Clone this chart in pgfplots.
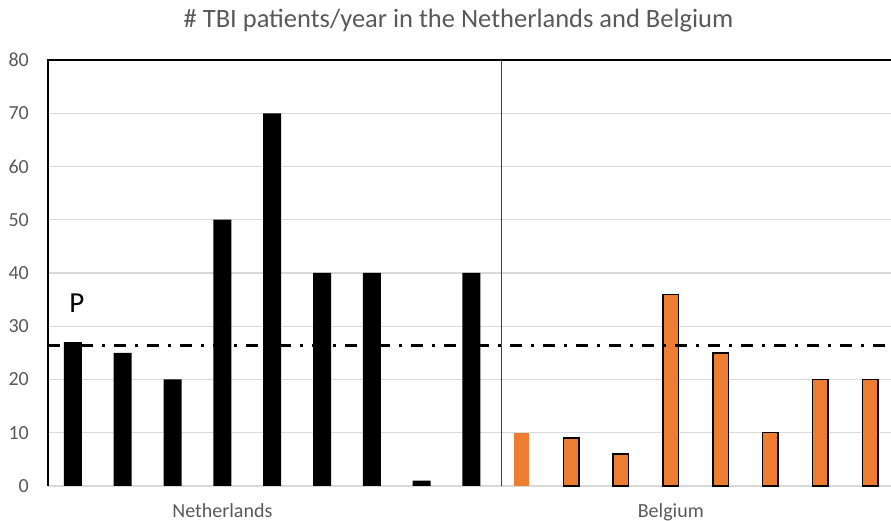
\documentclass[border=0pt]{standalone}
\usepackage{fontspec}
\setmainfont{Carlito}
\usepackage{pgfplots}
\pgfplotsset{compat=1.18}
\definecolor{txt}{HTML}{595959}
\definecolor{grd}{HTML}{D9D9D9}
\definecolor{org}{HTML}{ED7D31}
\begin{document}
\begin{tikzpicture}[x=1pt,y=1pt]
\path[use as bounding box] (0,0) rectangle (891,521);
\begin{axis}[
  at={(48pt,35pt)}, anchor=south west,
  scale only axis, width=843pt, height=426pt,
  xmin=0.5, xmax=17.42, ymin=0, ymax=80,
  ytick={0,10,...,80}, xtick=\empty,
  ymajorgrids, grid style={grd, line width=1.3pt},
  axis line style={draw=none},
  major tick length=0pt,
  clip=false,
  /pgf/number format/assume math mode=true,
  yticklabel style={font=\fontsize{20}{20}\selectfont, text=txt, inner sep=0pt, anchor=east, xshift=-19pt},
]
\addplot[ybar, bar width=18pt, bar shift=0pt, fill=black, draw=none]
  coordinates {(1,27)(2,25)(3,20)(4,50)(5,70)(6,40)(7,40)(8,1)(9,40)};
\addplot[ybar, bar width=15pt, bar shift=0pt, fill=org, draw=none]
  coordinates {(10,10)};
\addplot[ybar, bar width=15.5pt, bar shift=0pt, fill=org, draw=black, line width=1.5pt]
  coordinates {(11,9)(12,6)(13,36)(14,25)(15,10)(16,20)(17,20)};
\addplot[black, line width=3pt, dash pattern=on 12pt off 9pt on 3pt off 9pt]
  coordinates {(0.5,26.3)(17.42,26.3)};
\draw[line width=2pt, black] (axis cs:0.5,0) -- (axis cs:0.5,80) -- (axis cs:17.42,80);
\draw[line width=1.3pt, black!75] (axis cs:9.6,0) -- (axis cs:9.6,80);
\node[font=\fontsize{29}{29}\selectfont, black] at (axis cs:1.08,34.4) {P};
\node[font=\fontsize{20}{20}\selectfont, text=txt, anchor=base] at (axis cs:4,0) [yshift=-32pt] {Netherlands};
\node[font=\fontsize{20}{20}\selectfont, text=txt, anchor=base] at (axis cs:13,0) [yshift=-32pt] {Belgium};
\end{axis}
\node[font=\fontsize{26.5}{26.5}\selectfont, text=txt, anchor=base] at (458.5,493) {\# TBI patients/year in the Netherlands and Belgium};
\end{tikzpicture}
\end{document}
